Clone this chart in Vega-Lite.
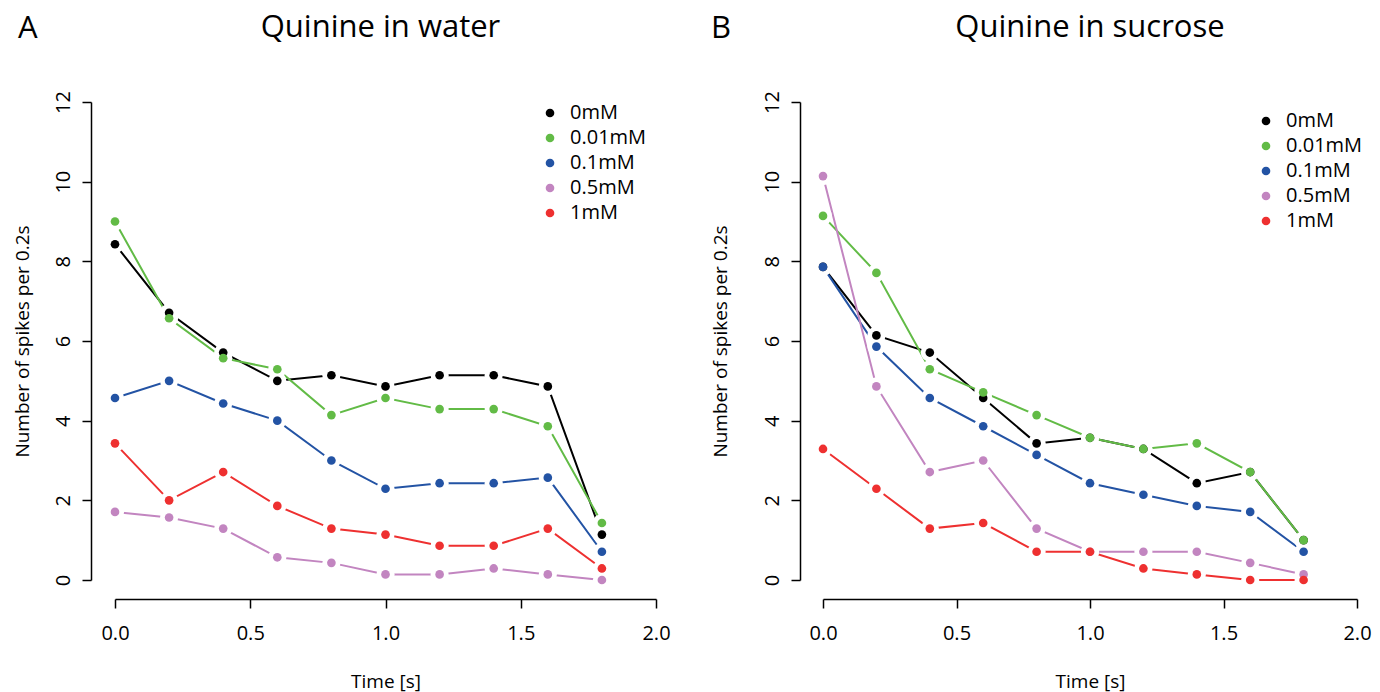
{
  "$schema": "https://vega.github.io/schema/vega-lite/v6.json",
  "background": "white",
  "padding": {"left": 13, "top": 11, "right": 5, "bottom": 5},
  "config": {
    "font": "Open Sans",
    "view": {"stroke": null},
    "axis": {"domainColor": "black", "domainWidth": 1.5, "tickColor": "black", "tickWidth": 1.5, "tickSize": 9, "grid": false, "labelFont": "Open Sans", "labelFontSize": 20, "labelColor": "black", "titleFont": "Open Sans", "titleFontSize": 19, "titleFontWeight": "normal", "titleColor": "black", "labelFlush": false, "labelOverlap": false},
    "title": {"font": "Open Sans", "fontSize": 31, "fontWeight": "normal", "color": "black"}
  },
  "datasets": {
    "water": [
      {"t": 0.0, "conc": "0mM", "spikes": 8.43}, {"t": 0.2, "conc": "0mM", "spikes": 6.71}, {"t": 0.4, "conc": "0mM", "spikes": 5.71}, {"t": 0.6, "conc": "0mM", "spikes": 5.0}, {"t": 0.8, "conc": "0mM", "spikes": 5.14}, {"t": 1.0, "conc": "0mM", "spikes": 4.86}, {"t": 1.2, "conc": "0mM", "spikes": 5.14}, {"t": 1.4, "conc": "0mM", "spikes": 5.14}, {"t": 1.6, "conc": "0mM", "spikes": 4.86}, {"t": 1.8, "conc": "0mM", "spikes": 1.14},
      {"t": 0.0, "conc": "0.01mM", "spikes": 9.0}, {"t": 0.2, "conc": "0.01mM", "spikes": 6.57}, {"t": 0.4, "conc": "0.01mM", "spikes": 5.57}, {"t": 0.6, "conc": "0.01mM", "spikes": 5.29}, {"t": 0.8, "conc": "0.01mM", "spikes": 4.14}, {"t": 1.0, "conc": "0.01mM", "spikes": 4.57}, {"t": 1.2, "conc": "0.01mM", "spikes": 4.29}, {"t": 1.4, "conc": "0.01mM", "spikes": 4.29}, {"t": 1.6, "conc": "0.01mM", "spikes": 3.86}, {"t": 1.8, "conc": "0.01mM", "spikes": 1.43},
      {"t": 0.0, "conc": "0.1mM", "spikes": 4.57}, {"t": 0.2, "conc": "0.1mM", "spikes": 5.0}, {"t": 0.4, "conc": "0.1mM", "spikes": 4.43}, {"t": 0.6, "conc": "0.1mM", "spikes": 4.0}, {"t": 0.8, "conc": "0.1mM", "spikes": 3.0}, {"t": 1.0, "conc": "0.1mM", "spikes": 2.29}, {"t": 1.2, "conc": "0.1mM", "spikes": 2.43}, {"t": 1.4, "conc": "0.1mM", "spikes": 2.43}, {"t": 1.6, "conc": "0.1mM", "spikes": 2.57}, {"t": 1.8, "conc": "0.1mM", "spikes": 0.71},
      {"t": 0.0, "conc": "0.5mM", "spikes": 1.71}, {"t": 0.2, "conc": "0.5mM", "spikes": 1.57}, {"t": 0.4, "conc": "0.5mM", "spikes": 1.29}, {"t": 0.6, "conc": "0.5mM", "spikes": 0.57}, {"t": 0.8, "conc": "0.5mM", "spikes": 0.43}, {"t": 1.0, "conc": "0.5mM", "spikes": 0.14}, {"t": 1.2, "conc": "0.5mM", "spikes": 0.14}, {"t": 1.4, "conc": "0.5mM", "spikes": 0.29}, {"t": 1.6, "conc": "0.5mM", "spikes": 0.14}, {"t": 1.8, "conc": "0.5mM", "spikes": 0.0},
      {"t": 0.0, "conc": "1mM", "spikes": 3.43}, {"t": 0.2, "conc": "1mM", "spikes": 2.0}, {"t": 0.4, "conc": "1mM", "spikes": 2.71}, {"t": 0.6, "conc": "1mM", "spikes": 1.86}, {"t": 0.8, "conc": "1mM", "spikes": 1.29}, {"t": 1.0, "conc": "1mM", "spikes": 1.14}, {"t": 1.2, "conc": "1mM", "spikes": 0.86}, {"t": 1.4, "conc": "1mM", "spikes": 0.86}, {"t": 1.6, "conc": "1mM", "spikes": 1.29}, {"t": 1.8, "conc": "1mM", "spikes": 0.29}
    ],
    "sucrose": [
      {"t": 0.0, "conc": "0mM", "spikes": 7.86}, {"t": 0.2, "conc": "0mM", "spikes": 6.14}, {"t": 0.4, "conc": "0mM", "spikes": 5.71}, {"t": 0.6, "conc": "0mM", "spikes": 4.57}, {"t": 0.8, "conc": "0mM", "spikes": 3.43}, {"t": 1.0, "conc": "0mM", "spikes": 3.57}, {"t": 1.2, "conc": "0mM", "spikes": 3.29}, {"t": 1.4, "conc": "0mM", "spikes": 2.43}, {"t": 1.6, "conc": "0mM", "spikes": 2.71}, {"t": 1.8, "conc": "0mM", "spikes": 1.0},
      {"t": 0.0, "conc": "0.01mM", "spikes": 9.14}, {"t": 0.2, "conc": "0.01mM", "spikes": 7.71}, {"t": 0.4, "conc": "0.01mM", "spikes": 5.29}, {"t": 0.6, "conc": "0.01mM", "spikes": 4.71}, {"t": 0.8, "conc": "0.01mM", "spikes": 4.14}, {"t": 1.0, "conc": "0.01mM", "spikes": 3.57}, {"t": 1.2, "conc": "0.01mM", "spikes": 3.29}, {"t": 1.4, "conc": "0.01mM", "spikes": 3.43}, {"t": 1.6, "conc": "0.01mM", "spikes": 2.71}, {"t": 1.8, "conc": "0.01mM", "spikes": 1.0},
      {"t": 0.0, "conc": "0.1mM", "spikes": 7.86}, {"t": 0.2, "conc": "0.1mM", "spikes": 5.86}, {"t": 0.4, "conc": "0.1mM", "spikes": 4.57}, {"t": 0.6, "conc": "0.1mM", "spikes": 3.86}, {"t": 0.8, "conc": "0.1mM", "spikes": 3.14}, {"t": 1.0, "conc": "0.1mM", "spikes": 2.43}, {"t": 1.2, "conc": "0.1mM", "spikes": 2.14}, {"t": 1.4, "conc": "0.1mM", "spikes": 1.86}, {"t": 1.6, "conc": "0.1mM", "spikes": 1.71}, {"t": 1.8, "conc": "0.1mM", "spikes": 0.71},
      {"t": 0.0, "conc": "0.5mM", "spikes": 10.14}, {"t": 0.2, "conc": "0.5mM", "spikes": 4.86}, {"t": 0.4, "conc": "0.5mM", "spikes": 2.71}, {"t": 0.6, "conc": "0.5mM", "spikes": 3.0}, {"t": 0.8, "conc": "0.5mM", "spikes": 1.29}, {"t": 1.0, "conc": "0.5mM", "spikes": 0.71}, {"t": 1.2, "conc": "0.5mM", "spikes": 0.71}, {"t": 1.4, "conc": "0.5mM", "spikes": 0.71}, {"t": 1.6, "conc": "0.5mM", "spikes": 0.43}, {"t": 1.8, "conc": "0.5mM", "spikes": 0.14},
      {"t": 0.0, "conc": "1mM", "spikes": 3.29}, {"t": 0.2, "conc": "1mM", "spikes": 2.29}, {"t": 0.4, "conc": "1mM", "spikes": 1.29}, {"t": 0.6, "conc": "1mM", "spikes": 1.43}, {"t": 0.8, "conc": "1mM", "spikes": 0.71}, {"t": 1.0, "conc": "1mM", "spikes": 0.71}, {"t": 1.2, "conc": "1mM", "spikes": 0.29}, {"t": 1.4, "conc": "1mM", "spikes": 0.14}, {"t": 1.6, "conc": "1mM", "spikes": 0.0}, {"t": 1.8, "conc": "1mM", "spikes": 0.0}
    ]
  },
  "spacing": 40,
  "resolve": {"scale": {"color": "independent", "stroke": "independent"}, "legend": {"color": "independent", "stroke": "independent"}},
  "hconcat": [
    {
      "title": {"text": "A", "anchor": "start", "frame": "bounds", "offset": -33, "dx": 5},
      "resolve": {"scale": {"color": "independent", "stroke": "independent"}, "legend": {"color": "independent", "stroke": "independent"}},
      "vconcat": [
        {
          "title": {"text": "Quinine in water", "anchor": "middle", "dx": -5, "offset": 47},
          "width": 541,
          "height": 478,
          "data": {"name": "water"},
          "encoding": {
            "x": {"field": "t", "type": "quantitative", "scale": {"domain": [0, 2], "nice": false, "zero": false}, "axis": {"values": [0, 0.5, 1, 1.5, 2], "format": ".1f", "offset": 19, "labelPadding": 15, "title": "Time [s]", "titlePadding": 29}},
            "y": {"field": "spikes", "type": "quantitative", "scale": {"domain": [0, 12], "nice": false}, "axis": {"values": [0, 2, 4, 6, 8, 10, 12], "offset": 24, "labelAngle": 270, "labelAlign": "center", "labelBaseline": "bottom", "labelPadding": 9, "title": "Number of spikes per 0.2s", "titlePadding": 21}}
          },
          "layer": [
            {"mark": {"type": "line", "strokeWidth": 2}, "encoding": {"stroke": {"field": "conc", "type": "nominal", "scale": {"domain": ["1mM", "0.5mM", "0.1mM", "0.01mM", "0mM"], "range": ["#EE3030", "#C285C0", "#2353A4", "#62BB46", "#000000"]}, "legend": null}}},
            {"mark": {"type": "point", "filled": true, "size": 330, "color": "white", "opacity": 1}},
            {"mark": {"type": "point", "filled": true, "size": 75, "opacity": 1}, "encoding": {"color": {"field": "conc", "type": "nominal", "scale": {"domain": ["0mM", "0.01mM", "0.1mM", "0.5mM", "1mM"], "range": ["#000000", "#62BB46", "#2353A4", "#C285C0", "#EE3030"]}, "legend": {"orient": "none", "legendX": 425, "legendY": 1, "title": null, "symbolType": "circle", "symbolSize": 75, "symbolStrokeWidth": 0, "labelFontSize": 20, "labelFont": "Open Sans", "labelColor": "black", "labelOffset": 10, "rowPadding": 5, "padding": 0}}}}
          ]
        }
      ]
    },
    {
      "title": {"text": "B", "anchor": "start", "frame": "bounds", "offset": -33, "dx": 0},
      "resolve": {"scale": {"color": "independent", "stroke": "independent"}, "legend": {"color": "independent", "stroke": "independent"}},
      "vconcat": [
        {
          "title": {"text": "Quinine in sucrose", "anchor": "middle", "offset": 47},
          "width": 534,
          "height": 478,
          "data": {"name": "sucrose"},
          "encoding": {
            "x": {"field": "t", "type": "quantitative", "scale": {"domain": [0, 2], "nice": false, "zero": false}, "axis": {"values": [0, 0.5, 1, 1.5, 2], "format": ".1f", "offset": 19, "labelPadding": 15, "title": "Time [s]", "titlePadding": 29}},
            "y": {"field": "spikes", "type": "quantitative", "scale": {"domain": [0, 12], "nice": false}, "axis": {"values": [0, 2, 4, 6, 8, 10, 12], "offset": 23, "labelAngle": 270, "labelAlign": "center", "labelBaseline": "bottom", "labelPadding": 9, "title": "Number of spikes per 0.2s", "titlePadding": 32}}
          },
          "layer": [
            {"mark": {"type": "line", "strokeWidth": 2}, "encoding": {"stroke": {"field": "conc", "type": "nominal", "scale": {"domain": ["1mM", "0.5mM", "0.1mM", "0.01mM", "0mM"], "range": ["#EE3030", "#C285C0", "#2353A4", "#62BB46", "#000000"]}, "legend": null}}},
            {"mark": {"type": "point", "filled": true, "size": 330, "color": "white", "opacity": 1}},
            {"mark": {"type": "point", "filled": true, "size": 75, "opacity": 1}, "encoding": {"color": {"field": "conc", "type": "nominal", "scale": {"domain": ["0mM", "0.01mM", "0.1mM", "0.5mM", "1mM"], "range": ["#000000", "#62BB46", "#2353A4", "#C285C0", "#EE3030"]}, "legend": {"orient": "none", "legendX": 433, "legendY": 9, "title": null, "symbolType": "circle", "symbolSize": 75, "symbolStrokeWidth": 0, "labelFontSize": 20, "labelFont": "Open Sans", "labelColor": "black", "labelOffset": 10, "rowPadding": 5, "padding": 0}}}}
          ]
        }
      ]
    }
  ]
}
